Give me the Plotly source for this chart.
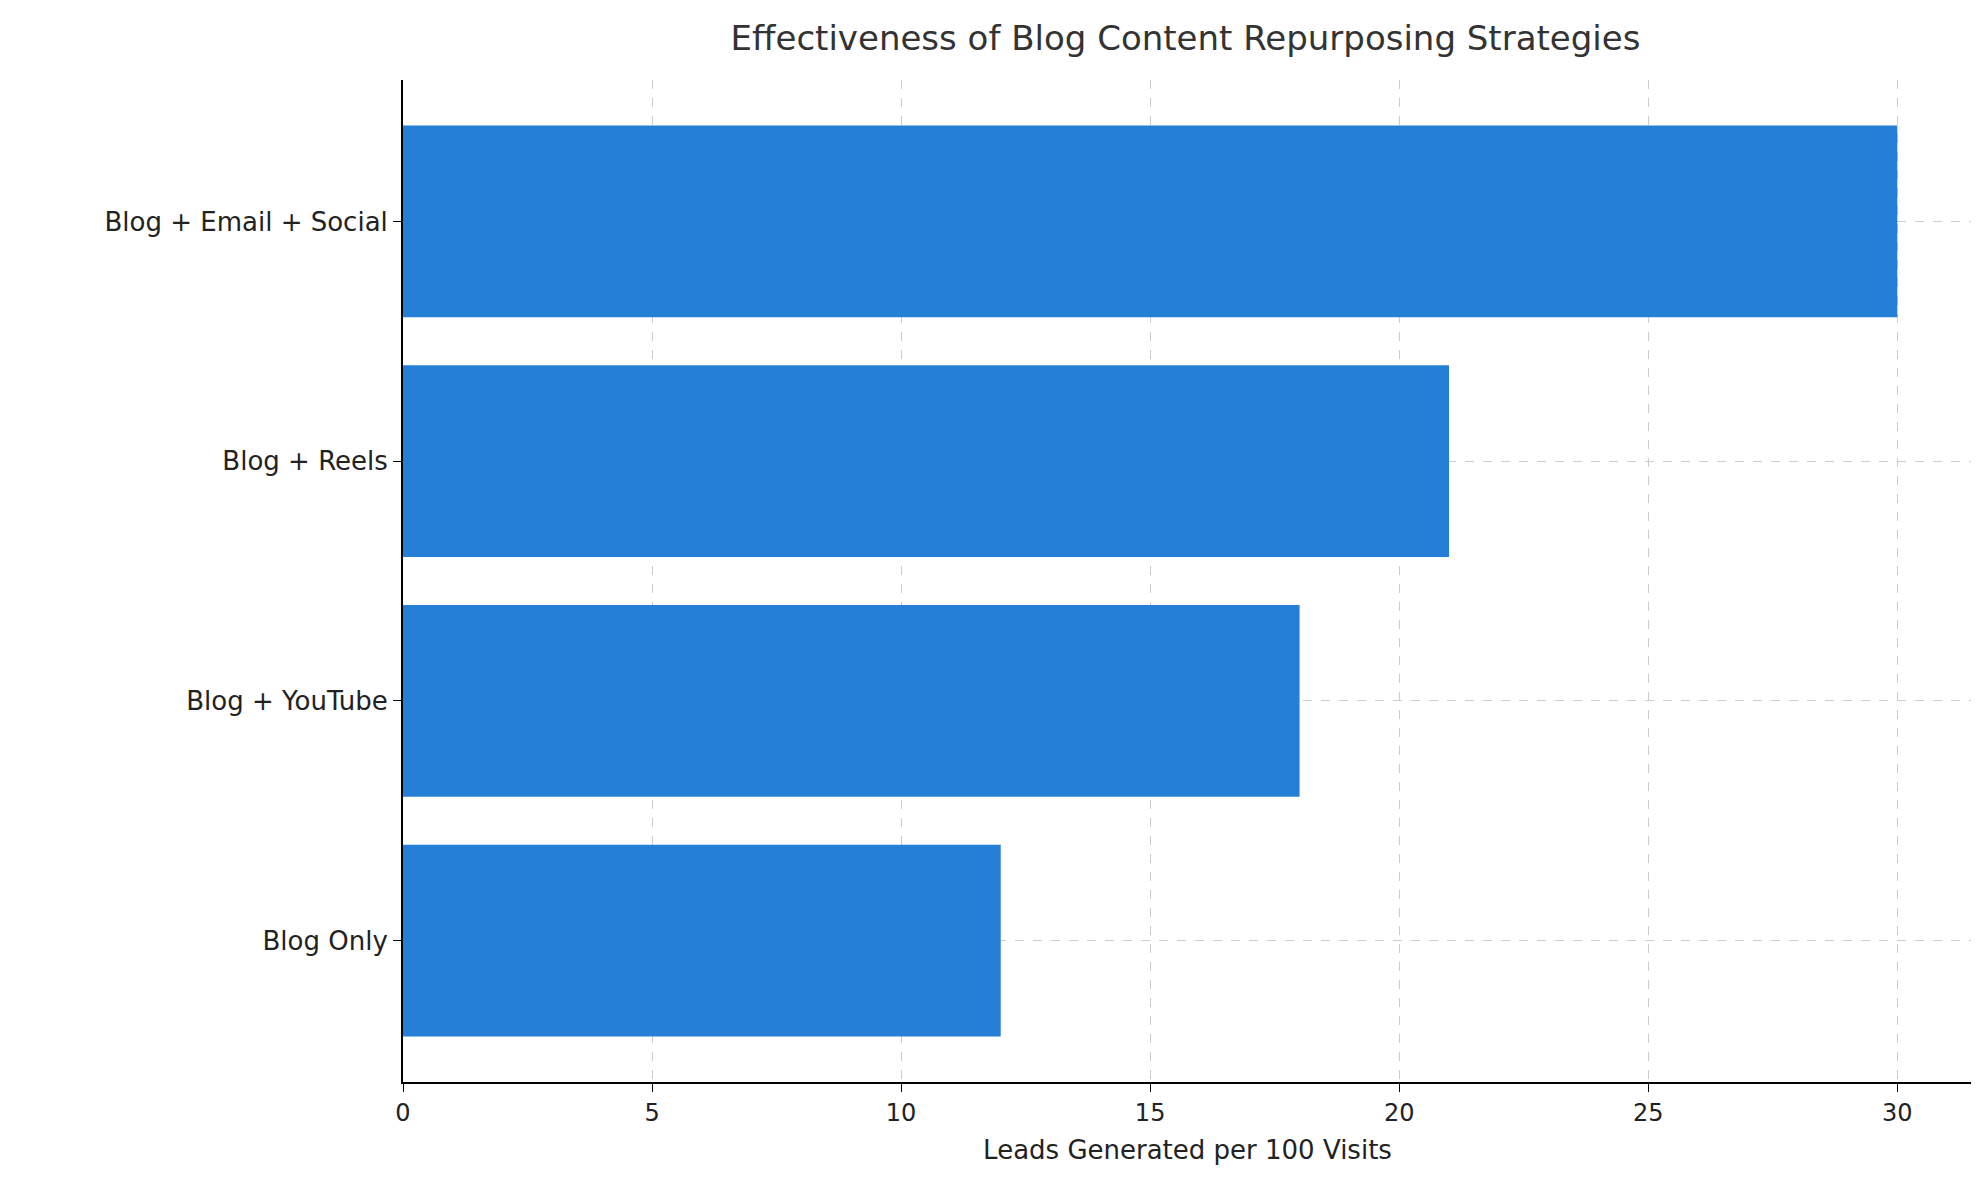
import plotly.graph_objects as go

strategies = ["Blog Only", "Blog + YouTube", "Blog + Reels", "Blog + Email + Social"]
leads = [12, 18, 21, 30]
x_ticks = [0, 5, 10, 15, 20, 25, 30]

fig = go.Figure(go.Bar(
    x=leads, y=strategies, orientation="h",
    marker=dict(color="#267fd6", line=dict(width=0)),
    width=0.8,
))

fig.update_layout(
    width=1979, height=1180,
    plot_bgcolor="white", paper_bgcolor="white",
    font=dict(family="DejaVu Sans", size=24, color="#222222"),
    title=dict(text="Effectiveness of Blog Content Repurposing Strategies",
               x=0.595, xanchor="center", y=0.985, yanchor="top",
               font=dict(size=34, color="#333333")),
    margin=dict(l=395, r=15, t=72, b=106),
    showlegend=False,
)
fig.update_xaxes(
    range=[0, 31.5], tickvals=x_ticks,
    title=dict(text="Leads Generated per 100 Visits", font=dict(size=26)),
    showgrid=True, gridcolor="#cccccc", griddash="dash", gridwidth=1,
    showline=True, linecolor="black", linewidth=2,
    ticks="outside", ticklen=8, tickcolor="black", zeroline=False,
)
fig.update_yaxes(
    range=[-0.59, 3.59],
    showgrid=True, gridcolor="#cccccc", griddash="dash", gridwidth=1,
    showline=True, linecolor="black", linewidth=2,
    ticks="outside", ticklen=8, tickcolor="black",
    tickfont=dict(size=26),
)

fig.write_html("out.html")
